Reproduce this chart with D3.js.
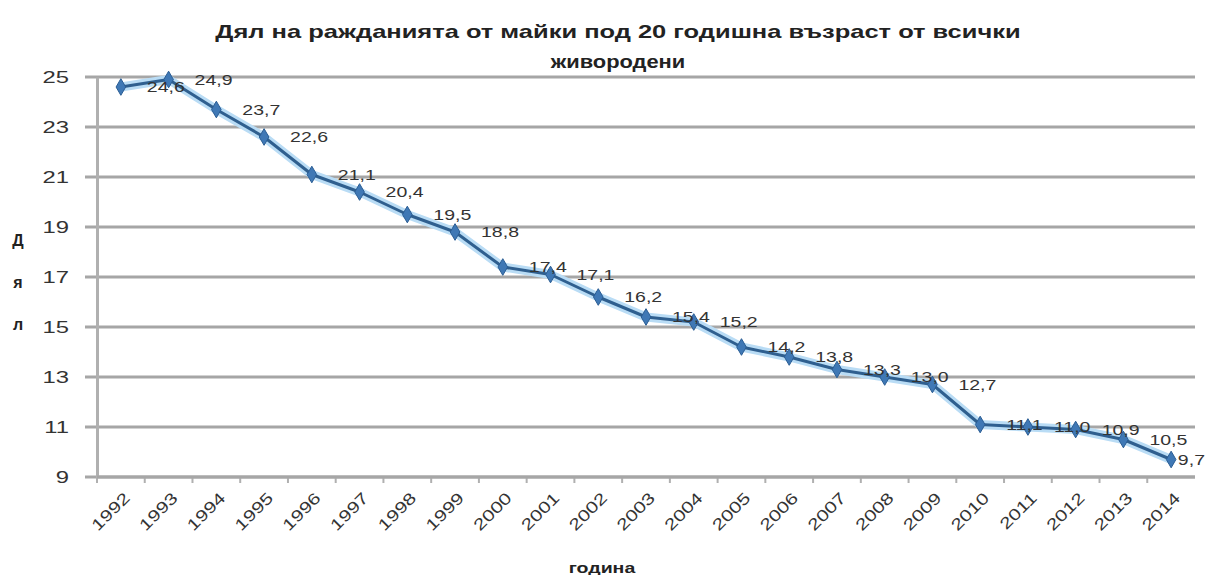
<!DOCTYPE html>
<html>
<head>
<meta charset="utf-8">
<script src="https://cdn.jsdelivr.net/npm/d3@7"></script>
<style>
  body { margin: 0; background: #fff; }
  svg { font-family: "Liberation Sans", Arial, sans-serif; }
</style>
</head>
<body>
<svg id="chart"></svg>
<script>
// data
const years = ["1992","1993","1994","1995","1996","1997","1998","1999","2000","2001","2002","2003",
  "2004","2005","2006","2007","2008","2009","2010","2011","2012","2013","2014"];
const share = [24.6, 24.9, 23.7, 22.6, 21.1, 20.4, 19.5, 18.8, 17.4, 17.1, 16.2, 15.4,
  15.2, 14.2, 13.8, 13.3, 13.0, 12.7, 11.1, 11.0, 10.9, 10.5, 9.7];
const yTicks = [9, 11, 13, 15, 17, 19, 21, 23, 25];
const titleLines = ["Дял на ражданията от майки под 20 годишна възраст от всички", "живородени"];
const yTitle = ["Д", "я", "л"];
const xTitle = "година";

const W = 1206, H = 575;
const padL = 97, padR = 1195, padT = 77, padB = 477;

const svg = d3.select("#chart").attr("width", W).attr("height", H);

// the source picture is stretched sideways, so widen texts a bit
const stretch = (sel, k) => sel.each(function () {
  const len = this.getComputedTextLength();
  d3.select(this).attr("textLength", len * k).attr("lengthAdjust", "spacingAndGlyphs");
});

const x = d3.scaleBand().domain(years).range([padL, padR]);
const y = d3.scaleLinear().domain([9, 25]).range([padB, padT]);

// gridlines
svg.append("g")
  .selectAll("line")
  .data(yTicks)
  .join("line")
  .attr("x1", padL - 12)
  .attr("x2", padR)
  .attr("y1", d => y(d))
  .attr("y2", d => y(d))
  .attr("stroke", "#a6a6a6")
  .attr("stroke-width", 3);

// y axis
const yAxis = d3.axisLeft(y).tickValues(yTicks).tickSize(0).tickPadding(28);
svg.append("g")
  .attr("transform", `translate(${padL},0)`)
  .call(yAxis)
  .call(g => g.select(".domain").attr("stroke", "#b0b0b0").attr("stroke-width", 3))
  .call(g => g.selectAll("text").attr("font-size", 17).attr("fill", "#333").call(stretch, 1.4));

// x axis
const xAxis = d3.axisBottom(x).tickSize(6).tickSizeOuter(0);
svg.append("g")
  .attr("transform", `translate(0,${padB})`)
  .call(xAxis)
  .call(g => g.select(".domain").remove())
  .call(g => g.selectAll("line").attr("stroke", "#b0b0b0").attr("stroke-width", 2)
    .attr("transform", `translate(${-x.bandwidth() / 2},0)`))
  .call(g => g.selectAll("text")
    .attr("font-size", 16)
    .attr("fill", "#333")
    .attr("text-anchor", "end")
    .attr("dy", "0.35em")
    .attr("y", 0)
    .attr("transform", "translate(6,18) rotate(-45)")
    .call(stretch, 1.3));

svg.append("line")
  .attr("x1", padL).attr("x2", padR)
  .attr("y1", padB).attr("y2", padB)
  .attr("stroke", "#a6a6a6").attr("stroke-width", 3);

// series
const pts = years.map((yr, i) => ({ yr, v: share[i] }));
const cx = d => x(d.yr) + x.bandwidth() / 2;
const line = d3.line().x(cx).y(d => y(d.v));

svg.append("path").datum(pts)
  .attr("d", line)
  .attr("fill", "none")
  .attr("stroke", "#b9dcf5")
  .attr("stroke-width", 9)
  .attr("stroke-linejoin", "round");

svg.append("path").datum(pts)
  .attr("d", line)
  .attr("fill", "none")
  .attr("stroke", "#2f5f8f")
  .attr("stroke-width", 3)
  .attr("stroke-linejoin", "round");

svg.append("g")
  .selectAll("path")
  .data(pts)
  .join("path")
  .attr("d", d3.symbol(d3.symbolDiamond, 80))
  .attr("transform", d => `translate(${cx(d)},${y(d.v)})`)
  .attr("fill", "#3f78b5")
  .attr("stroke", "#2a5d94")
  .attr("stroke-width", 1);

// data labels
const last = pts.length - 1;
svg.append("g")
  .selectAll("text")
  .data(pts)
  .join("text")
  .attr("x", (d, i) => i === last ? W - 1 : cx(d) + 26)
  .attr("y", d => y(d.v) + 5)
  .attr("text-anchor", (d, i) => i === last ? "end" : "start")
  .attr("font-size", 15)
  .attr("fill", "#333")
  .text(d => d.v.toFixed(1).replace(".", ","))
  .call(stretch, 1.3);

// titles
svg.append("g")
  .selectAll("text")
  .data(titleLines)
  .join("text")
  .attr("x", 618)
  .attr("y", (d, i) => 38 + i * 30)
  .attr("text-anchor", "middle")
  .attr("font-size", 19)
  .attr("font-weight", "bold")
  .attr("fill", "#222")
  .text(d => d)
  .each(function (d, i) {
    const len = this.getComputedTextLength();
    d3.select(this).attr("textLength", len * (i === 0 ? 1.34 : 1.15))
      .attr("lengthAdjust", "spacingAndGlyphs");
  });

svg.append("g")
  .selectAll("text")
  .data(yTitle)
  .join("text")
  .attr("x", 18)
  .attr("y", (d, i) => 246 + i * 42)
  .attr("text-anchor", "middle")
  .attr("font-size", 16)
  .attr("font-weight", "bold")
  .attr("fill", "#222")
  .text(d => d);

svg.append("text")
  .attr("x", 602)
  .attr("y", 573)
  .attr("text-anchor", "middle")
  .attr("font-size", 15)
  .attr("font-weight", "bold")
  .attr("fill", "#222")
  .text(xTitle)
  .call(stretch, 1.3);
</script>
</body>
</html>
